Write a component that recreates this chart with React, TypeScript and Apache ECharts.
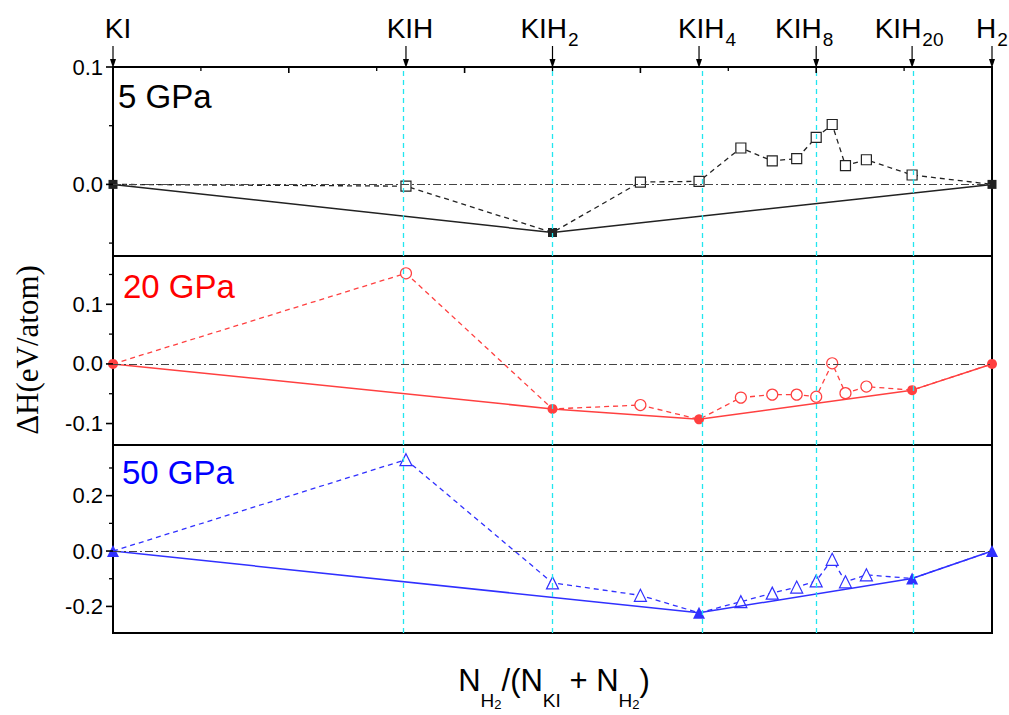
import React, { useEffect, useRef } from 'react';
import * as echarts from 'echarts';

// composition N_H2/(N_KI+N_H2): KI, KIH, KIH2, KIH3, KIH4, KIH5, KIH6, KIH7, KIH8, KIH9, KIH10, KIH12, KIH20, H2
const compositionX = [0, 0.3333, 0.5, 0.6, 0.6667, 0.7143, 0.75, 0.7778, 0.8, 0.8182, 0.8333, 0.8571, 0.9091, 1];
const dH_5GPa = [0, -0.0015, -0.041, 0.002, 0.0026, 0.031, 0.02, 0.022, 0.04, 0.051, 0.016, 0.021, 0.008, 0];
const dH_20GPa = [0, 0.152, -0.0755, -0.069, -0.093, -0.0565, -0.0515, -0.0515, -0.055, 0.001, -0.049, -0.038, -0.044, 0];
const dH_50GPa = [0, 0.33, -0.115, -0.16, -0.223, -0.183, -0.152, -0.13, -0.108, -0.03, -0.111, -0.086, -0.099, 0];
// indices of the points on the convex hull
const hull_5GPa = [0, 2, 13];
const hull_20GPa = [0, 2, 4, 12, 13];
const hull_50GPa = [0, 4, 12, 13];

const markerX = [0, 0.3333, 0.5, 0.6667, 0.8, 0.9091, 1];
const markerMain = ['KI', 'KIH', 'KIH', 'KIH', 'KIH', 'KIH', 'H'];
const markerSub = ['', '', '2', '4', '8', '20', '2'];
const guideX = [0.3333, 0.5, 0.6667, 0.8, 0.9091];

const topMajorTicks = [0.2, 0.4, 0.6, 0.8];
const topMinorTicks = [0.1, 0.3, 0.5, 0.7, 0.9];

const panelNames = ['5 GPa', '20 GPa', '50 GPa'];
const yMajorTicks = [[0, 0.1], [-0.1, 0, 0.1], [-0.2, 0, 0.2]];
const yMinorTicks = [[-0.05, 0.05], [-0.05, 0.05, 0.15], [-0.1, 0.1, 0.3]];
const yRanges = [[-0.061, 0.1], [-0.136, 0.181], [-0.296, 0.383]];

const SANS = 'Liberation Sans, Arial, sans-serif';
const SERIF = 'Liberation Serif, Times New Roman, serif';

const panelTops = [67, 256, 445];
const panelHeights = [189, 189, 188];
const lineColors = ['#222222', '#ff4040', '#3030ff'];
const textColors = ['#000000', '#ff0000', '#0000ff'];
const symbols = ['rect', 'circle', 'triangle'];
const openSizes = [10, 11, 12];
const filledSizes = [9, 10, 12];
const labelOffsets = [5, 4, -3, 8, -12, -3, 0];
const panelLabelPos = [[118, 96], [123, 286], [122, 472]];

export default function App() {
  const ref = useRef<HTMLDivElement>(null);

  useEffect(() => {
    const chart = echarts.init(ref.current!, null, { renderer: 'svg' });
    const values = [dH_5GPa, dH_20GPa, dH_50GPa];
    const hulls = [hull_5GPa, hull_20GPa, hull_50GPa];

    const grid = panelTops.map((t, i) => ({
      left: 113,
      width: 879,
      top: t,
      height: panelHeights[i],
      show: true,
      borderColor: '#000',
      borderWidth: 2,
      backgroundColor: 'transparent',
      containLabel: false,
    }));

    const xAxis: any[] = [0, 1, 2].map((i) => ({
      type: 'value',
      gridIndex: i,
      min: 0,
      max: 1,
      position: i === 0 ? 'top' : 'bottom',
      axisLine: { show: false, onZero: false },
      axisLabel: { show: false },
      splitLine: { show: false },
      axisTick: { show: false },
    }));

    const yAxis: any[] = [0, 1, 2].map((i) => ({
      type: 'value',
      gridIndex: i,
      min: yRanges[i][0],
      max: yRanges[i][1],
      position: 'left',
      axisLine: { show: false, onZero: false },
      splitLine: { show: false },
      axisTick: { show: false },
      axisLabel: {
        customValues: yMajorTicks[i],
        formatter: (v: number) => v.toFixed(1),
        fontSize: 22,
        fontFamily: SANS,
        color: '#000',
        margin: 10,
      },
    }));

    const series: any[] = [];
    [0, 1, 2].forEach((i) => {
      const vals = values[i];
      const hull = hulls[i];
      const c = lineColors[i];
      const dashedData = compositionX.map((x, k) =>
        hull.includes(k) ? { value: [x, vals[k]], symbol: 'none' } : [x, vals[k]]
      );
      series.push({
        type: 'line',
        xAxisIndex: i,
        yAxisIndex: i,
        data: dashedData,
        symbol: symbols[i],
        symbolSize: openSizes[i],
        showAllSymbol: true,
        itemStyle: { color: '#ffffff', borderColor: c, borderWidth: 1.2, opacity: 1 },
        lineStyle: { color: c, width: 1.3, type: [5, 4] },
        z: 2,
        markLine: {
          silent: true,
          symbol: ['none', 'none'],
          label: { show: false },
          animation: false,
          data: [
            ...guideX.map((g) => ({ xAxis: g, lineStyle: { color: '#22e6f0', width: 1.3, type: [5, 4] } })),
            { yAxis: 0, lineStyle: { color: '#444', width: 1.2, type: [8, 3, 2, 3] } },
          ],
        },
      });
      series.push({
        type: 'line',
        xAxisIndex: i,
        yAxisIndex: i,
        data: hull.map((k) => [compositionX[k], vals[k]]),
        symbol: symbols[i],
        symbolSize: filledSizes[i],
        itemStyle: { color: c },
        lineStyle: { color: c, width: 1.5, type: 'solid' },
        z: 3,
      });
    });

    chart.setOption({
      animation: false,
      backgroundColor: '#fff',
      grid,
      xAxis,
      yAxis,
      series,
    });

    const graphics: any[] = [];
    const toX = (v: number, i = 0) => chart.convertToPixel({ xAxisIndex: i }, v) as number;
    const toY = (v: number, i: number) => chart.convertToPixel({ yAxisIndex: i }, v) as number;

    // top-axis ticks of upper panel (inward)
    const topY = toY(yRanges[0][1], 0);
    topMajorTicks.forEach((v) => {
      const px = toX(v);
      graphics.push({ type: 'line', z: 20, shape: { x1: px, y1: topY, x2: px, y2: topY + 6 }, style: { stroke: '#000', lineWidth: 1.6 } });
    });
    topMinorTicks.forEach((v) => {
      const px = toX(v);
      graphics.push({ type: 'line', z: 20, shape: { x1: px, y1: topY, x2: px, y2: topY + 4 }, style: { stroke: '#000', lineWidth: 1.3 } });
    });
    // left-axis ticks (outward)
    [0, 1, 2].forEach((i) => {
      const lx = toX(0, i);
      yMajorTicks[i].forEach((v) => {
        const py = toY(v, i);
        graphics.push({ type: 'line', z: 20, shape: { x1: lx - 7, y1: py, x2: lx, y2: py }, style: { stroke: '#000', lineWidth: 1.6 } });
      });
      yMinorTicks[i].forEach((v) => {
        const py = toY(v, i);
        graphics.push({ type: 'line', z: 20, shape: { x1: lx - 4, y1: py, x2: lx, y2: py }, style: { stroke: '#000', lineWidth: 1.3 } });
      });
    });

    markerX.forEach((v, i) => {
      const px = toX(v);
      graphics.push({
        type: 'line',
        shape: { x1: px, y1: 46, x2: px, y2: 62 },
        style: { stroke: '#000', lineWidth: 1.2 },
        z: 10,
      });
      graphics.push({
        type: 'polygon',
        shape: { points: [[px - 3, 59], [px + 3, 59], [px, 68]] },
        style: { fill: '#000' },
        z: 10,
      });
      const sub = markerSub[i];
      graphics.push({
        type: 'text',
        x: px + labelOffsets[i],
        y: 14,
        z: 10,
        style: {
          text: sub ? `{m|${markerMain[i]}}{s|${sub}}` : `{m|${markerMain[i]}}`,
          align: 'center',
          verticalAlign: 'top',
          rich: {
            m: { fontSize: 28, fontFamily: SANS, fill: '#000', lineHeight: 28, verticalAlign: 'top' },
            s: { fontSize: 19, fontFamily: SANS, fill: '#000', lineHeight: 19, verticalAlign: 'top', padding: [16, 0, 0, 1] },
          },
        },
      });
    });

    panelNames.forEach((n, i) => {
      graphics.push({
        type: 'text',
        x: panelLabelPos[i][0],
        y: panelLabelPos[i][1],
        z: 10,
        style: {
          text: n,
          fontSize: 33,
          fontFamily: SANS,
          fill: textColors[i],
          align: 'left',
          verticalAlign: 'middle',
        },
      });
    });

    graphics.push({
      type: 'text',
      x: 27,
      y: 350,
      rotation: Math.PI / 2,
      z: 10,
      style: {
        text: 'ΔH(eV/atom)',
        fontSize: 31,
        fontFamily: SERIF,
        fill: '#000',
        align: 'center',
        verticalAlign: 'middle',
      },
    });

    graphics.push({
      type: 'text',
      x: 554,
      y: 665,
      z: 10,
      style: {
        text: '{m|N}{s|H}{ss|2}{m|/(N}{s|KI}{m| + N}{s|H}{ss|2}{m|)}',
        align: 'center',
        verticalAlign: 'top',
        rich: {
          m: { fontSize: 31, fontFamily: SANS, fill: '#000', lineHeight: 31, verticalAlign: 'top' },
          s: { fontSize: 19, fontFamily: SANS, fill: '#000', lineHeight: 19, verticalAlign: 'top', padding: [26, 0, 0, 0] },
          ss: { fontSize: 13, fontFamily: SANS, fill: '#000', lineHeight: 13, verticalAlign: 'top', padding: [33, 0, 0, 0] },
        },
      },
    });

    chart.setOption({ graphic: graphics });

    return () => {
      chart.dispose();
    };
  }, []);

  return (
    <div
      ref={ref}
      style={{ position: 'fixed', left: 0, top: 0, width: 1009, height: 715, background: '#fff' }}
    />
  );
}
